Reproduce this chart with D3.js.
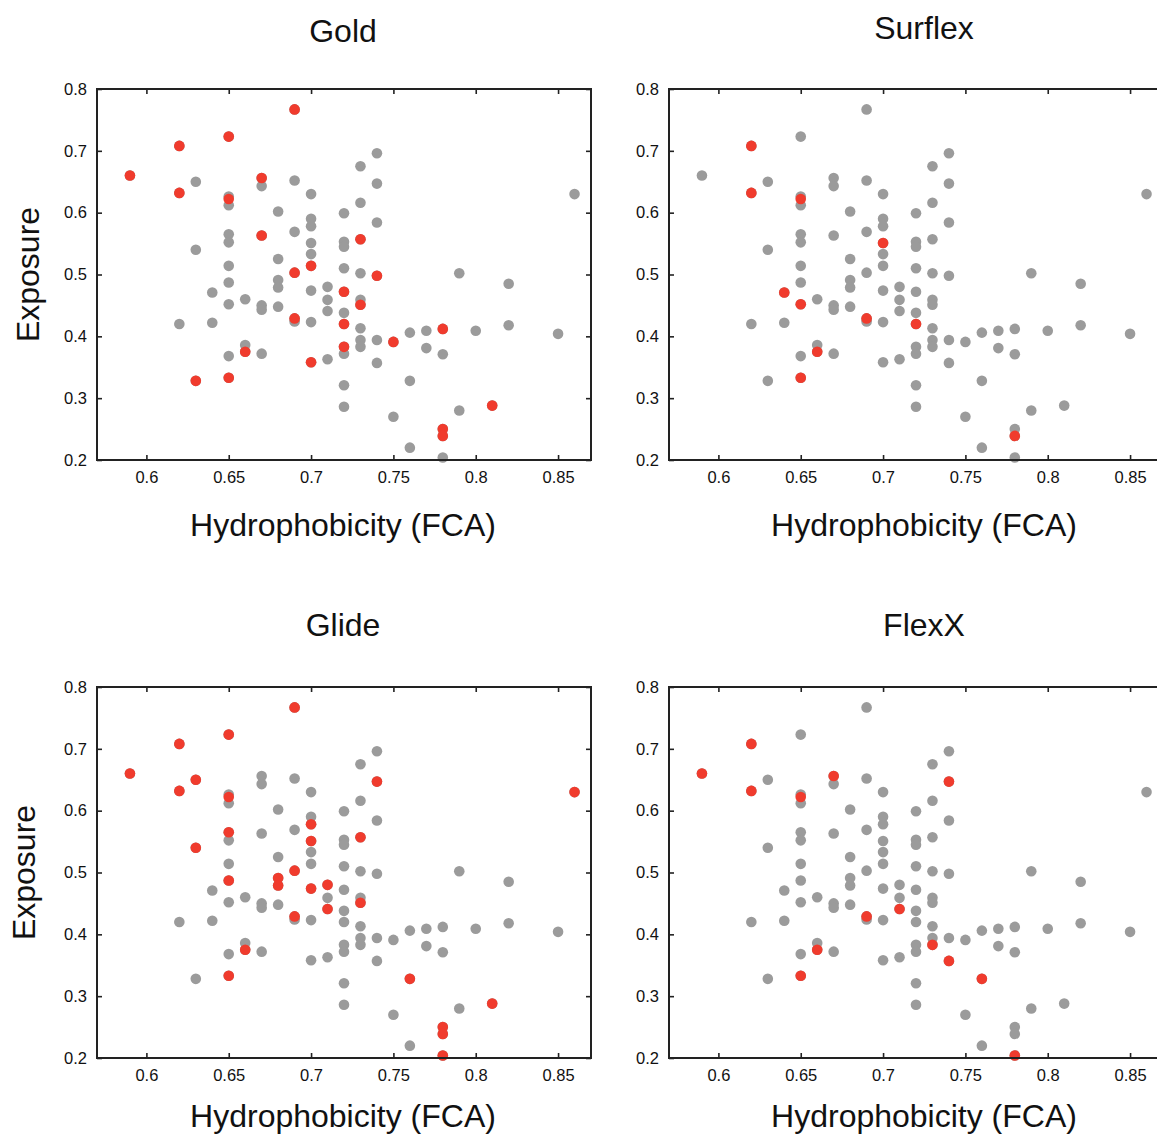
<!DOCTYPE html>
<html>
<head>
<meta charset="utf-8">
<script src="https://cdn.jsdelivr.net/npm/d3@7"></script>
<style>
  body { margin: 0; background: #fff; }
  text { font-family: "Liberation Sans", Arial, sans-serif; fill: #111; }
</style>
</head>
<body>
<div id="chart"></div>
<script>
// panel titles, in drawing order
var panelNames = ["Gold", "Surflex", "Glide", "FlexX"];

// every ligand: [hydrophobicity (FCA), exposure]
var allPoints = [
  [0.59,0.660],[0.62,0.708],[0.62,0.632],[0.62,0.420],[0.63,0.650],[0.63,0.540],[0.63,0.328],
  [0.64,0.471],[0.64,0.422],[0.65,0.723],[0.65,0.626],[0.65,0.612],[0.65,0.565],[0.65,0.552],
  [0.65,0.514],[0.65,0.487],[0.65,0.452],[0.65,0.368],[0.65,0.333],[0.66,0.460],[0.66,0.386],
  [0.66,0.375],[0.67,0.656],[0.67,0.643],[0.67,0.563],[0.67,0.450],[0.67,0.443],[0.67,0.372],
  [0.68,0.602],[0.68,0.525],[0.68,0.491],[0.68,0.479],[0.68,0.448],[0.69,0.767],[0.69,0.652],
  [0.69,0.569],[0.69,0.503],[0.69,0.429],[0.69,0.424],[0.70,0.630],[0.70,0.590],[0.70,0.578],
  [0.70,0.551],[0.70,0.533],[0.70,0.514],[0.70,0.474],[0.70,0.423],[0.70,0.358],[0.71,0.480],
  [0.71,0.459],[0.71,0.441],[0.71,0.363],[0.72,0.599],[0.72,0.553],[0.72,0.545],[0.72,0.510],
  [0.72,0.472],[0.72,0.438],[0.72,0.420],[0.72,0.383],[0.72,0.372],[0.72,0.321],[0.72,0.286],
  [0.73,0.675],[0.73,0.616],[0.73,0.557],[0.73,0.502],[0.73,0.459],[0.73,0.451],[0.73,0.413],
  [0.73,0.394],[0.73,0.383],[0.74,0.696],[0.74,0.647],[0.74,0.584],[0.74,0.498],[0.74,0.394],
  [0.74,0.357],[0.75,0.391],[0.75,0.270],[0.76,0.406],[0.76,0.328],[0.76,0.220],[0.77,0.409],
  [0.77,0.381],[0.78,0.412],[0.78,0.371],[0.78,0.250],[0.78,0.239],[0.78,0.204],[0.79,0.502],
  [0.79,0.280],[0.80,0.409],[0.81,0.288],[0.82,0.485],[0.82,0.418],[0.85,0.404],[0.86,0.630]
];

// ligands picked out in red by each docking program
var goldHits = [
  [0.59,0.660],[0.62,0.708],[0.62,0.632],[0.63,0.328],[0.65,0.723],[0.65,0.622],[0.65,0.333],
  [0.66,0.375],[0.67,0.656],[0.67,0.563],[0.69,0.767],[0.69,0.503],[0.69,0.429],[0.70,0.514],
  [0.70,0.358],[0.72,0.472],[0.72,0.420],[0.72,0.383],[0.73,0.557],[0.73,0.451],[0.74,0.498],
  [0.75,0.391],[0.78,0.412],[0.78,0.250],[0.78,0.239],[0.81,0.288]
];
var surflexHits = [
  [0.62,0.708],[0.62,0.632],[0.65,0.622],[0.64,0.471],[0.65,0.452],[0.65,0.333],[0.66,0.375],
  [0.69,0.429],[0.70,0.551],[0.72,0.420],[0.78,0.239]
];
var glideHits = [
  [0.59,0.660],[0.62,0.708],[0.62,0.632],[0.63,0.650],[0.63,0.540],[0.65,0.723],[0.65,0.622],
  [0.65,0.565],[0.65,0.487],[0.65,0.333],[0.66,0.375],[0.68,0.491],[0.68,0.479],[0.69,0.767],
  [0.69,0.503],[0.69,0.429],[0.70,0.578],[0.70,0.551],[0.70,0.474],[0.71,0.480],[0.71,0.441],
  [0.73,0.557],[0.73,0.451],[0.74,0.647],[0.76,0.328],[0.78,0.250],[0.78,0.239],[0.78,0.204],
  [0.81,0.288],[0.86,0.630]
];
var flexxHits = [
  [0.59,0.660],[0.62,0.708],[0.62,0.632],[0.65,0.622],[0.67,0.656],[0.74,0.647],[0.69,0.429],
  [0.71,0.441],[0.66,0.375],[0.65,0.333],[0.73,0.383],[0.74,0.357],[0.76,0.328],[0.78,0.204]
];

var xTickValues = [0.6, 0.65, 0.7, 0.75, 0.8, 0.85];
var yTickValues = [0.2, 0.3, 0.4, 0.5, 0.6, 0.7, 0.8];
var xDomain = [0.57, 0.87];
var yDomain = [0.2, 0.8];

var svgWidth = 1157, svgHeight = 1137;
var plotW = 494, plotH = 371;
var grey = "#9b9b9b", red = "#f03b2d";
var r = 5.3;
var bigFont = 32, tickFont = 16.5;

// where each panel sits on the page
var layout = [
  {left: 97,  top: 89,  titleX: 343, titleY: 42,  labelX: 343, labelY: 536,  yLabel: true,  yLabelX: 39},
  {left: 669, top: 89,  titleX: 924, titleY: 39,  labelX: 924, labelY: 536,  yLabel: false},
  {left: 97,  top: 687, titleX: 343, titleY: 636, labelX: 343, labelY: 1127, yLabel: true,  yLabelX: 35},
  {left: 669, top: 687, titleX: 924, titleY: 636, labelX: 924, labelY: 1127, yLabel: false}
];
var hitSets = [goldHits, surflexHits, glideHits, flexxHits];

var svg = d3.select("#chart").append("svg")
  .attr("width", svgWidth)
  .attr("height", svgHeight);

var fmt = function(d){ return String(d); };

function drawPanel(k) {
  var L = layout[k];
  var x = d3.scaleLinear().domain(xDomain).range([0, plotW]);
  var y = d3.scaleLinear().domain(yDomain).range([plotH, 0]);

  var g = svg.append("g").attr("transform", "translate(" + L.left + "," + L.top + ")");

  // inward ticks on all four sides
  var axB = g.append("g").attr("transform", "translate(0," + plotH + ")")
    .call(d3.axisBottom(x).tickValues(xTickValues).tickFormat(fmt).tickSize(-5).tickSizeOuter(0).tickPadding(11));
  var axT = g.append("g")
    .call(d3.axisTop(x).tickValues(xTickValues).tickFormat("").tickSize(-5).tickSizeOuter(0));
  var axL = g.append("g")
    .call(d3.axisLeft(y).tickValues(yTickValues).tickFormat(fmt).tickSize(-5).tickSizeOuter(0).tickPadding(10));
  var axR = g.append("g").attr("transform", "translate(" + plotW + ",0)")
    .call(d3.axisRight(y).tickValues(yTickValues).tickFormat("").tickSize(-5).tickSizeOuter(0));

  [axB, axT, axL, axR].forEach(function(a){
    a.attr("font-size", tickFont).attr("font-family", "'Liberation Sans', Arial, sans-serif");
    a.select(".domain").remove();
    a.selectAll(".tick line").attr("stroke", "#222").attr("stroke-width", 1.6);
    a.selectAll(".tick text").attr("fill", "#222");
  });

  // grey dots for every ligand, red ones on top
  g.selectAll("circle.all")
    .data(allPoints)
    .enter().append("circle")
    .attr("class", "all")
    .attr("cx", function(d){ return x(d[0]); })
    .attr("cy", function(d){ return y(d[1]); })
    .attr("r", r)
    .attr("fill", grey);

  g.selectAll("circle.hit")
    .data(hitSets[k])
    .enter().append("circle")
    .attr("class", "hit")
    .attr("cx", function(d){ return x(d[0]); })
    .attr("cy", function(d){ return y(d[1]); })
    .attr("r", r)
    .attr("fill", red);

  // frame
  g.append("rect")
    .attr("width", plotW).attr("height", plotH)
    .attr("fill", "none").attr("stroke", "#222").attr("stroke-width", 2);

  svg.append("text")
    .attr("x", L.titleX).attr("y", L.titleY)
    .attr("text-anchor", "middle").attr("font-size", bigFont)
    .text(panelNames[k]);

  svg.append("text")
    .attr("x", L.labelX).attr("y", L.labelY)
    .attr("text-anchor", "middle").attr("font-size", bigFont)
    .text("Hydrophobicity (FCA)");

  if (L.yLabel) {
    svg.append("text")
      .attr("transform", "translate(" + L.yLabelX + "," + (L.top + plotH / 2) + ") rotate(-90)")
      .attr("text-anchor", "middle").attr("font-size", bigFont)
      .text("Exposure");
  }
}

for (var k = 0; k < panelNames.length; k++) {
  drawPanel(k);
}
</script>
</body>
</html>
